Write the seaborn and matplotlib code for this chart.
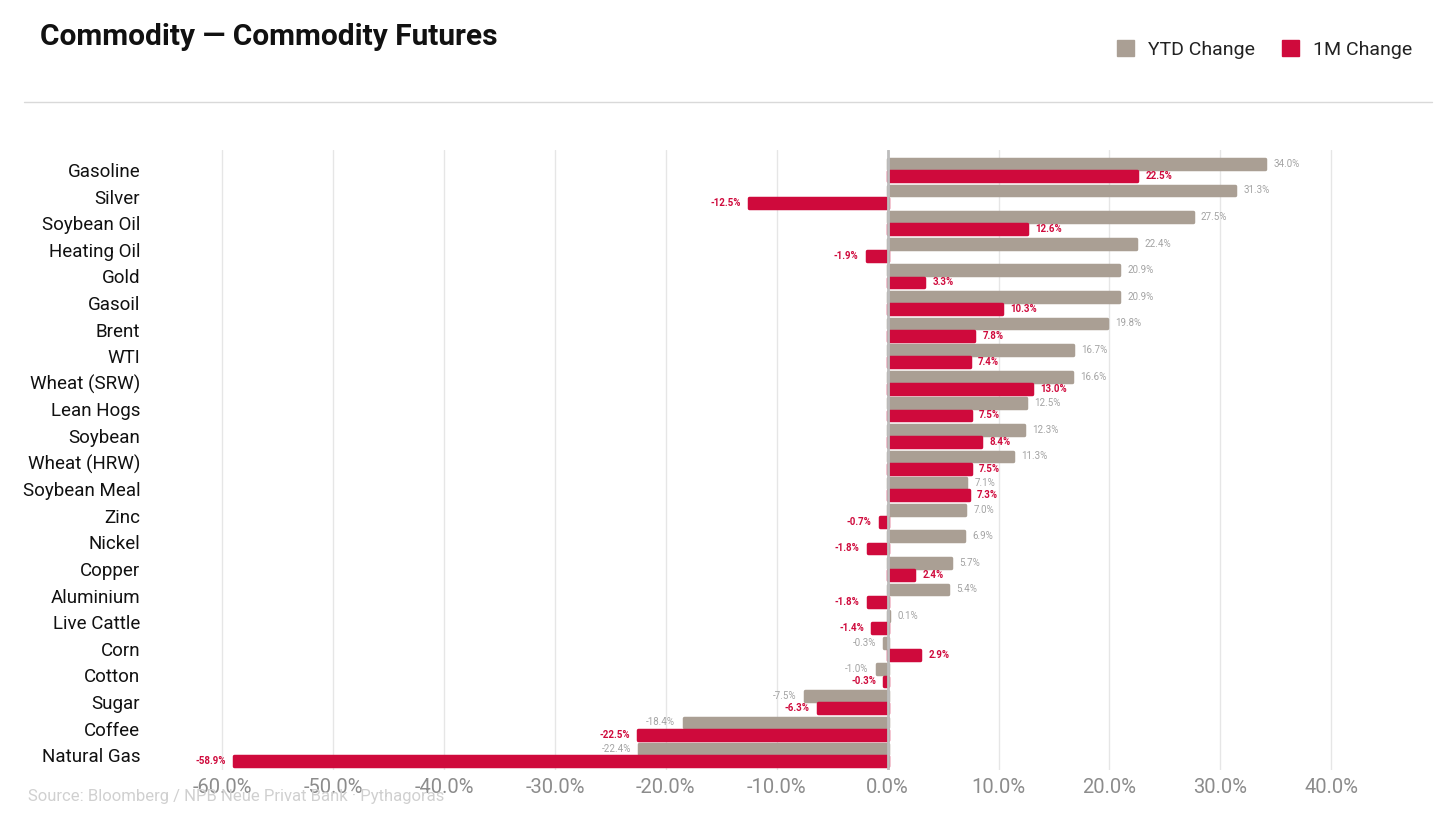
import seaborn as sns
import matplotlib.pyplot as plt
import pandas as pd
from matplotlib.patches import Patch

commodities = ["Gasoline", "Silver", "Soybean Oil", "Heating Oil", "Gold", "Gasoil", "Brent", "WTI",
               "Wheat (SRW)", "Lean Hogs", "Soybean", "Wheat (HRW)", "Soybean Meal", "Zinc", "Nickel",
               "Copper", "Aluminium", "Live Cattle", "Corn", "Cotton", "Sugar", "Coffee", "Natural Gas"]
ytd_change = [34.0, 31.3, 27.5, 22.4, 20.9, 20.9, 19.8, 16.7, 16.6, 12.5, 12.3, 11.3, 7.1, 7.0, 6.9,
              5.7, 5.4, 0.1, -0.3, -1.0, -7.5, -18.4, -22.4]
one_m_change = [22.5, -12.5, 12.6, -1.9, 3.3, 10.3, 7.8, 7.4, 13.0, 7.5, 8.4, 7.5, 7.3, -0.7, -1.8,
                2.4, -1.8, -1.4, 2.9, -0.3, -6.3, -22.5, -58.9]
series = ["YTD Change", "1M Change"]
x_ticks = [-60, -50, -40, -30, -20, -10, 0, 10, 20, 30, 40]

GREY = "#aa9f94"
RED = "#cf0a3c"

sns.set_style("white")
plt.rcParams["font.family"] = ["Roboto", "DejaVu Sans"]

# long form table for seaborn
df = pd.DataFrame({
    "commodity": commodities * 2,
    "change": ytd_change + one_m_change,
    "series": [series[0]] * len(commodities) + [series[1]] * len(commodities),
})

fig = plt.figure(figsize=(14.56, 8.19), dpi=100)
ax = fig.add_axes([0.1374, 0.0598, 0.8379, 0.757])

sns.barplot(data=df, x="change", y="commodity", hue="series", order=commodities,
            hue_order=series, palette=[GREY, RED], orient="h", width=0.92, gap=0.2,
            ax=ax, legend=False, saturation=1)

# soften the bar corners
for bar in ax.patches:
    bar.set_edgecolor(bar.get_facecolor())
    bar.set_linewidth(2.5)
    bar.set_joinstyle("round")

ax.set_xlim(-62, 48)
ax.set_ylim(22.56, -0.75)
ax.set_xticks(x_ticks)
ax.set_xticklabels(["%.1f%%" % t for t in x_ticks])
ax.tick_params(axis="x", labelsize=14.5, colors="#8c8c8c", length=0, pad=6)
ax.tick_params(axis="y", labelsize=13.5, colors="#111111", length=0, pad=43)
for lab in ax.get_yticklabels():
    lab.set_color("#111111")
ax.set_xlabel("")
ax.set_ylabel("")
ax.grid(axis="x", color="#e6e6e6", linewidth=1)
ax.set_axisbelow(True)
for s in ax.spines.values():
    s.set_visible(False)
ax.axvline(0, color="#bdbdbd", linewidth=2, zorder=1)

# value labels next to each bar
offsets = {series[0]: -0.23, series[1]: 0.23}
colours = {series[0]: "#a3a3a3", series[1]: RED}
for name, values in zip(series, [ytd_change, one_m_change]):
    for i, v in enumerate(values):
        y = i + offsets[name]
        weight = "bold" if name == series[1] else "normal"
        if v >= 0:
            ax.text(v + 0.75, y, "%.1f%%" % v, ha="left", va="center", fontsize=7,
                    color=colours[name], fontweight=weight)
        else:
            ax.text(v - 0.75, y, "%.1f%%" % v, ha="right", va="center", fontsize=7,
                    color=colours[name], fontweight=weight)

fig.text(0.0275, 0.955, "Commodity \u2014 Commodity Futures", fontsize=21.5, fontweight="bold",
         color="#111111", va="center")
fig.add_artist(plt.Line2D([0.0165, 0.9835], [0.875, 0.875], color="#d9d9d9", linewidth=1))

handles = [Patch(facecolor=GREY, edgecolor=GREY), Patch(facecolor=RED, edgecolor=RED)]
fig.legend(handles, series, loc="center right", bbox_to_anchor=(0.982, 0.94), ncol=2,
           frameon=False, fontsize=14, handlelength=0.9, handleheight=0.9,
           handletextpad=0.7, columnspacing=1.4, labelcolor="#222222")

fig.text(0.019, 0.028, "Source: Bloomberg / NPB Neue Privat Bank \u00b7 Pythagoras", fontsize=12,
         color="#d0d0d0", va="center")

fig.savefig("out.png", dpi=100)
